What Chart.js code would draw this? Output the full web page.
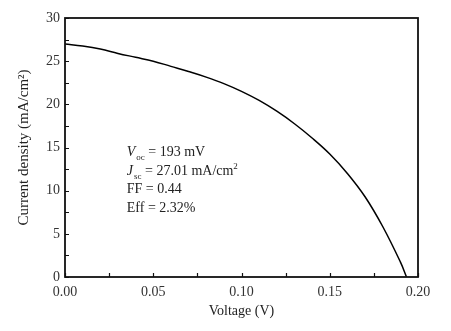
<!DOCTYPE html>
<html>
<head>
<meta charset="utf-8">
<script src="https://cdn.jsdelivr.net/npm/chart.js@4/dist/chart.umd.min.js"></script>
<style>
  body { margin: 0; background: #fff; }
  canvas { display: block; }
</style>
</head>
<body>
<canvas id="myChart" width="451" height="331"></canvas>
<script>
// J-V curve
var voltage = [0, 0.01, 0.02, 0.03, 0.04, 0.05, 0.06, 0.07, 0.08, 0.09, 0.10,
               0.11, 0.12, 0.13, 0.14, 0.15, 0.16, 0.17, 0.18, 0.19, 0.1935];
var current = [27.0, 26.75, 26.4, 25.9, 25.45, 25.0, 24.4, 23.8, 23.15, 22.4, 21.5,
               20.45, 19.2, 17.75, 16.1, 14.25, 12.0, 9.3, 5.85, 1.75, 0];
var xTicks = [0, 0.05, 0.10, 0.15, 0.20];
var yTicks = [0, 5, 10, 15, 20, 25, 30];
var xMinor = [0.025, 0.075, 0.125, 0.175];
var yMinor = [2.5, 7.5, 12.5, 17.5, 22.5, 27.5];

var serif = '"Liberation Serif", "Times New Roman", serif';

var points = voltage.map(function (v, i) { return { x: v, y: current[i] }; });

// frame, inward ticks and the parameter text
var framePlugin = {
  id: 'frame',
  afterDraw: function (chart) {
    var ctx = chart.ctx;
    var a = chart.chartArea;
    var xs = chart.scales.x, ys = chart.scales.y;
    ctx.save();
    ctx.strokeStyle = '#111';
    ctx.lineWidth = 1.2;
    ctx.beginPath();
    xTicks.concat(xMinor).forEach(function (v) {
      var px = Math.round(xs.getPixelForValue(v)) + 0.5;
      ctx.moveTo(px, a.bottom);
      ctx.lineTo(px, a.bottom - 4);
    });
    yTicks.concat(yMinor).forEach(function (v) {
      var py = Math.round(ys.getPixelForValue(v)) + 0.5;
      ctx.moveTo(a.left, py);
      ctx.lineTo(a.left + 4, py);
    });
    ctx.stroke();
    ctx.lineWidth = 1.8;
    ctx.strokeRect(a.left, a.top, a.right - a.left, a.bottom - a.top);

    // text block
    var x0 = xs.getPixelForValue(0.035);
    var y0 = ys.getPixelForValue(14.4);
    var step = 18.5;
    ctx.fillStyle = '#222';
    ctx.textBaseline = 'middle';
    function seg(txt, x, y, font) {
      ctx.font = font;
      ctx.fillText(txt, x, y);
      return x + ctx.measureText(txt).width;
    }
    var norm = '14px ' + serif, ital = 'italic 14px ' + serif, sub = '9px ' + serif;
    var x = seg('V', x0, y0, ital);
    x = seg('oc', x + 1, y0 + 5, sub);
    seg(' = 193 mV', x, y0, norm);
    x = seg('J', x0, y0 + step, ital);
    x = seg('sc', x + 1, y0 + step + 5, sub);
    x = seg(' = 27.01 mA/cm', x, y0 + step, norm);
    seg('2', x, y0 + step - 5, sub);
    seg('FF = 0.44', x0, y0 + 2 * step, norm);
    seg('Eff = 2.32%', x0, y0 + 3 * step, norm);
    ctx.restore();
  }
};

var ctx = document.getElementById('myChart').getContext('2d');
var myChart = new Chart(ctx, {
  type: 'scatter',
  data: {
    datasets: [{
      label: 'J-V',
      data: points,
      showLine: true,
      borderColor: '#000',
      borderWidth: 1.5,
      pointRadius: 0,
      tension: 0.4
    }]
  },
  options: {
    responsive: false,
    animation: false,
    layout: { padding: { top: 18, right: 33, left: 0, bottom: 0 } },
    plugins: { legend: { display: false }, tooltip: { enabled: false } },
    scales: {
      x: {
        type: 'linear',
        min: 0, max: 0.2,
        afterFit: function (s) { s.height = 54; },
        afterBuildTicks: function (s) { s.ticks = xTicks.map(function (v) { return { value: v }; }); },
        grid: { display: false, drawTicks: false },
        border: { display: false },
        ticks: {
          padding: 7,
          color: '#333',
          font: { family: serif, size: 14 },
          callback: function (v) { return Number(v).toFixed(2); }
        },
        title: {
          display: true,
          text: 'Voltage (V)',
          color: '#222',
          font: { family: serif, size: 14 },
          padding: { top: 0, bottom: 11 }
        }
      },
      y: {
        min: 0, max: 30,
        afterFit: function (s) { s.width = 65; },
        afterBuildTicks: function (s) { s.ticks = yTicks.map(function (v) { return { value: v }; }); },
        grid: { display: false, drawTicks: false },
        border: { display: false },
        ticks: {
          padding: 5,
          color: '#333',
          font: { family: serif, size: 14 }
        },
        title: {
          display: true,
          text: 'Current density (mA/cm²)',
          color: '#222',
          font: { family: serif, size: 15 },
          padding: { top: 15, bottom: 0 }
        }
      }
    }
  },
  plugins: [framePlugin]
});
</script>
</body>
</html>
